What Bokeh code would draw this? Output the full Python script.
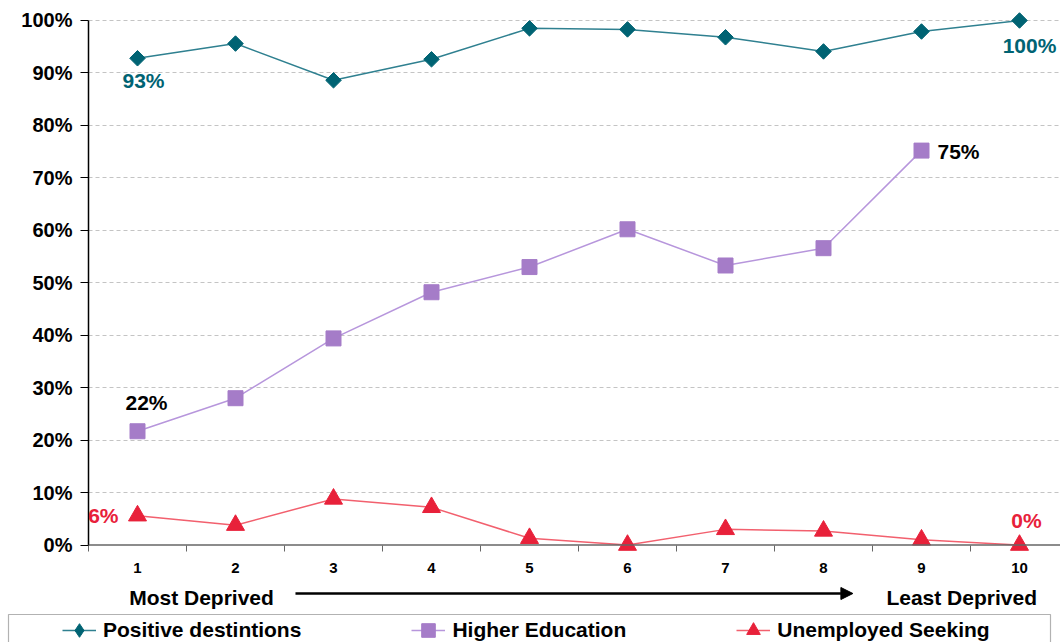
from bokeh.plotting import figure
from bokeh.layouts import column
from bokeh.models import (ColumnDataSource, FixedTicker, PrintfTickFormatter, Span, Range1d,
                          Label, Arrow, NormalHead, Legend, LegendItem, BoxAnnotation)
from bokeh.embed import file_html
from bokeh.resources import INLINE
import math

# Deprivation deciles (1 = most deprived, 10 = least deprived)
deciles = [1, 2, 3, 4, 5, 6, 7, 8, 9, 10]
decile_labels = ["1", "2", "3", "4", "5", "6", "7", "8", "9", "10"]

# Share of leavers in each destination, percent
positive_destinations = [92.8, 95.6, 88.6, 92.6, 98.5, 98.3, 96.8, 94.1, 97.9, 100.0]
higher_education = [21.7, 28.0, 39.4, 48.2, 53.0, 60.2, 53.3, 56.6, 75.2]
unemployed_seeking = [5.6, 3.8, 8.8, 7.2, 1.3, 0.0, 3.0, 2.7, 1.0, 0.0]

series_names = ["Positive destintions", "Higher Education", "Unemployed Seeking"]
y_ticks = [0, 10, 20, 30, 40, 50, 60, 70, 80, 90, 100]

FONT = "Liberation Sans"
TEAL = "#006373"
TEAL_LINE = "#2f8090"
PURPLE = "#a57cc8"
PURPLE_LINE = "#b796dc"
RED = "#e8213a"
RED_LINE = "#f2606e"

# chart markers (diamond = square turned 45 degrees) and the legend's swatch markers
STYLES = [
    dict(line=TEAL_LINE, fill=TEAL, marker="square", size=11, angle=math.pi / 4, key="diamond"),
    dict(line=PURPLE_LINE, fill=PURPLE, marker="square", size=15, angle=0, key="square"),
    dict(line=RED_LINE, fill=RED, marker="triangle", size=18, angle=0, key="triangle"),
]
series = [positive_destinations, higher_education, unemployed_seeking]
sources = [ColumnDataSource(dict(x=deciles[:len(v)], y=v)) for v in series]

# ---------------------------------------------------------------- main chart
PX_PER_UNIT = 98.0
p = figure(width=1060, height=582, output_backend="svg", toolbar_location=None,
           x_range=Range1d(0.5, 0.5 + 972 / PX_PER_UNIT), y_range=(-1.6, 103.62),
           min_border_left=88, min_border_right=0, min_border_top=1, min_border_bottom=29)
p.frame_align = False
p.outline_line_color = None
p.background_fill_color = "white"
p.border_fill_color = "white"

# y axis: percentages
p.yaxis.ticker = FixedTicker(ticks=y_ticks)
p.yaxis.formatter = PrintfTickFormatter(format="%d%%")
p.yaxis.bounds = (0, 100)
p.yaxis.axis_line_color = "black"
p.yaxis.axis_line_width = 1.5
p.yaxis.major_tick_line_color = "black"
p.yaxis.major_tick_out = 8
p.yaxis.major_tick_in = 0
p.yaxis.minor_tick_line_color = None
p.yaxis.major_label_text_font = FONT
p.yaxis.major_label_text_font_style = "bold"
p.yaxis.major_label_text_font_size = "20px"
p.yaxis.major_label_text_color = "black"
p.yaxis.major_label_standoff = 8

# x axis: decile labels under each category, tick marks on the category edges
p.xaxis.ticker = FixedTicker(ticks=deciles, minor_ticks=[d - 0.5 for d in deciles] + [10.5])
p.xaxis.major_label_overrides = {d: lab for d, lab in zip(deciles, decile_labels)}
p.xaxis.axis_line_color = None
p.xaxis.major_tick_line_color = None
p.xaxis.major_tick_out = 0
p.xaxis.major_tick_in = 0
p.xaxis.minor_tick_line_color = "#666666"
p.xaxis.minor_tick_in = 8
p.xaxis.minor_tick_out = -2
p.xaxis.major_label_text_font = FONT
p.xaxis.major_label_text_font_style = "bold"
p.xaxis.major_label_text_font_size = "15px"
p.xaxis.major_label_text_color = "black"
p.xaxis.major_label_standoff = 9

p.xgrid.grid_line_color = None
p.ygrid.ticker = FixedTicker(ticks=y_ticks[1:])
p.ygrid.grid_line_color = "#c4c4c4"
p.ygrid.grid_line_dash = "4 3"
p.ygrid.grid_line_width = 1

# baseline at 0%
p.add_layout(Span(location=0, dimension="width", line_color="#666666", line_width=1.5))

for src, st in zip(sources, STYLES):
    p.line("x", "y", source=src, line_color=st["line"], line_width=1.5)
    p.scatter("x", "y", source=src, marker=st["marker"], size=st["size"], angle=st["angle"],
              fill_color=st["fill"], line_color=st["fill"])


def pct(v):
    return f"{round(v)}%"


def value_label(x, v, color, dx, dy, align):
    p.add_layout(Label(x=x, y=v, text=pct(v), x_offset=dx, y_offset=dy,
                       text_font=FONT, text_font_style="bold", text_font_size="21px",
                       text_color=color, text_align=align, text_baseline="alphabetic"))


value_label(deciles[0], positive_destinations[0], TEAL, 6, -22.5, "center")
value_label(deciles[-1], positive_destinations[-1], TEAL, 10, -25.5, "center")
value_label(deciles[0], higher_education[0], "black", 9, 28.5, "center")
value_label(deciles[len(higher_education) - 1], higher_education[-1], "black", 16, -0.5, "left")
value_label(deciles[0], unemployed_seeking[0], RED, -19, 0.5, "right")
value_label(deciles[-1], unemployed_seeking[-1], RED, 7, 24.5, "center")

# ------------------------------------------------- direction arrow and legend
# same horizontal scale as the chart; vertical units are pixels from the top
x0 = 0.5 - 88 / PX_PER_UNIT
q = figure(width=1060, height=60, output_backend="svg", toolbar_location=None,
           x_range=Range1d(x0, x0 + 1060 / PX_PER_UNIT), y_range=Range1d(60, 0),
           min_border_left=0, min_border_right=0, min_border_top=0, min_border_bottom=0,
           x_axis_location=None, y_axis_location=None)
q.frame_align = False
q.outline_line_color = None
q.xgrid.visible = False
q.ygrid.visible = False
q.background_fill_color = "white"
q.border_fill_color = "white"

for x, txt in [(1.653, "Most Deprived"), (9.41, "Least Deprived")]:
    q.add_layout(Label(x=x, y=14.5, text=txt, text_font=FONT, text_font_style="bold",
                       text_font_size="21px", text_color="black", text_align="center",
                       text_baseline="alphabetic"))
q.add_layout(Arrow(x_start=2.612, y_start=11, x_end=8.3, y_end=11,
                   line_color="black", line_width=2.5,
                   end=NormalHead(size=12, fill_color="black", line_color="black")))

q.add_layout(BoxAnnotation(left=x0 + 8 / PX_PER_UNIT, right=x0 + 1050 / PX_PER_UNIT,
                           top=32, bottom=90, fill_color=None, line_color="black",
                           line_width=1.2))

# legend swatches reuse the series styles; their points sit on a range that is never shown
q.extra_y_ranges = {"swatch": Range1d(-1000, -900)}
items = []
for name, src, st in zip(series_names, sources, STYLES):
    lr = q.line("x", "y", source=src, line_color=st["line"], line_width=1.5,
                y_range_name="swatch")
    mr = q.scatter("x", "y", source=src, marker=st["key"], size=st["size"],
                   fill_color=st["fill"], line_color=st["fill"], y_range_name="swatch")
    items.append(LegendItem(label=name, renderers=[lr, mr]))

legend = Legend(items=items, orientation="horizontal", location=(62, -5), padding=0, margin=0,
                spacing=110, glyph_width=34, glyph_height=34, label_standoff=7,
                label_text_font=FONT, label_text_font_style="bold",
                label_text_font_size="21px", label_text_color="black",
                border_line_color=None, background_fill_alpha=0)
q.add_layout(legend, "center")

layout = column(p, q, spacing=0)
open("out.html", "w").write(file_html(layout, INLINE))
